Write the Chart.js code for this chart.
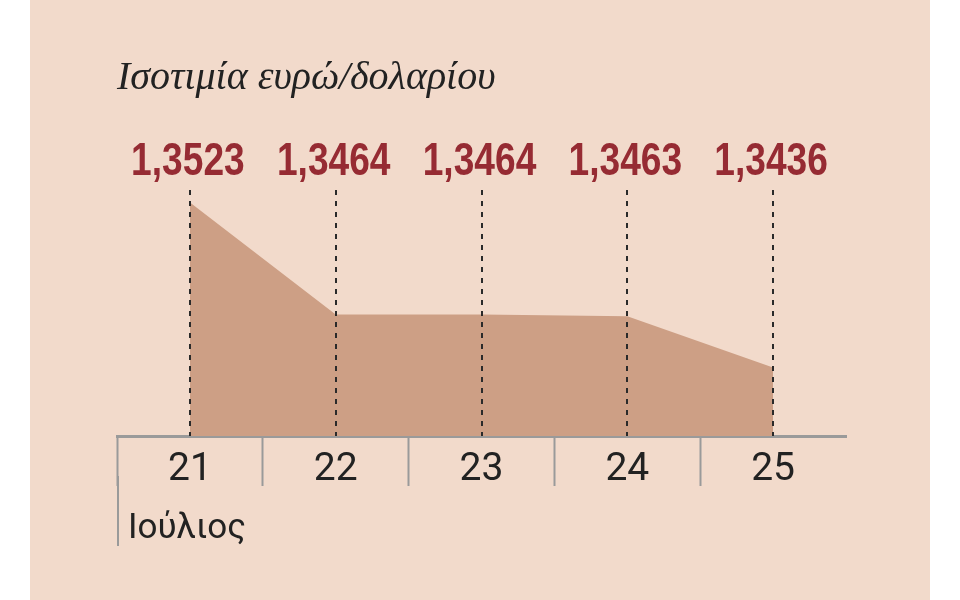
<!DOCTYPE html>
<html>
<head>
<meta charset="utf-8">
<script src="https://cdn.jsdelivr.net/npm/chart.js@4/dist/chart.umd.min.js"></script>
<style>
  body { margin: 0; background: #fff; }
  #panel { position: absolute; left: 30px; top: 0; width: 900px; height: 600px; background: #f2dacb; }
</style>
</head>
<body>
<div id="panel"><canvas id="rateChart" width="900" height="600"></canvas></div>
<script>
const days = ['21', '22', '23', '24', '25'];
const rates = [1.3523, 1.3464, 1.3464, 1.3463, 1.3436];
const monthLabel = 'Ιούλιος';
const chartTitle = 'Ισοτιμία ευρώ/δολαρίου';

const AXIS_GREY = '#9a9a9a';
const VALUE_RED = '#962b33';

// dashed guides, value labels above them, month label under the first band
const overlay = {
  id: 'overlay',
  afterDatasetsDraw(chart) {
    const { ctx, chartArea } = chart;
    const pts = chart.getDatasetMeta(0).data;
    ctx.save();
    ctx.strokeStyle = '#2a2a2a';
    ctx.lineWidth = 2;
    ctx.setLineDash([5, 6]);
    pts.forEach(p => {
      ctx.beginPath();
      ctx.moveTo(Math.round(p.x), 190);
      ctx.lineTo(Math.round(p.x), chartArea.bottom);
      ctx.stroke();
    });
    ctx.setLineDash([]);

    ctx.fillStyle = VALUE_RED;
    ctx.font = 'bold 47px "Liberation Sans"';
    ctx.textAlign = 'center';
    ctx.textBaseline = 'alphabetic';
    pts.forEach((p, i) => {
      const txt = rates[i].toFixed(4).replace('.', ',');
      ctx.save();
      ctx.translate(p.x - 2, 175);
      ctx.scale(0.79, 1);
      ctx.fillText(txt, 0, 0);
      ctx.restore();
    });
    ctx.restore();
  },
  afterDraw(chart) {
    const { ctx, chartArea } = chart;
    ctx.save();
    ctx.strokeStyle = AXIS_GREY;
    ctx.lineWidth = 2;
    ctx.beginPath();
    ctx.moveTo(chartArea.left + 1, chartArea.bottom + 40);
    ctx.lineTo(chartArea.left + 1, 546);
    ctx.stroke();
    ctx.fillStyle = '#222';
    ctx.font = '35px Roboto';
    ctx.textAlign = 'left';
    ctx.textBaseline = 'alphabetic';
    ctx.fillText(monthLabel, chartArea.left + 11, 538);
    ctx.restore();
  }
};

new Chart(document.getElementById('rateChart'), {
  type: 'line',
  data: {
    labels: days,
    datasets: [{
      data: rates,
      fill: 'start',
      backgroundColor: '#cd9f85',
      borderWidth: 0,
      pointRadius: 0,
      tension: 0
    }]
  },
  options: {
    responsive: false,
    animation: false,
    layout: { padding: { left: 87, right: 84, top: 0, bottom: 0 } },
    plugins: {
      legend: { display: false },
      tooltip: { enabled: false },
      title: {
        display: true,
        text: chartTitle,
        align: 'start',
        color: '#222',
        font: { family: '"Liberation Serif"', style: 'italic', weight: 'normal', size: 40, lineHeight: 1.2 },
        padding: { top: 54, bottom: 68 }
      }
    },
    scales: {
      x: {
        offset: true,
        afterFit(scale) { scale.height = 164; },
        border: { display: true, color: AXIS_GREY, width: 3 },
        grid: {
          offset: true,
          drawOnChartArea: false,
          drawTicks: true,
          tickLength: 50,
          tickWidth: 2,
          tickColor: c => c.index === undefined ? 'rgba(0,0,0,0)' : AXIS_GREY
        },
        ticks: {
          color: '#222',
          padding: -39,
          font: { family: 'Roboto', weight: 'normal', size: 39 }
        }
      },
      y: {
        display: false,
        min: 1.34,
        max: 1.354
      }
    }
  },
  plugins: [overlay]
});
</script>
</body>
</html>
